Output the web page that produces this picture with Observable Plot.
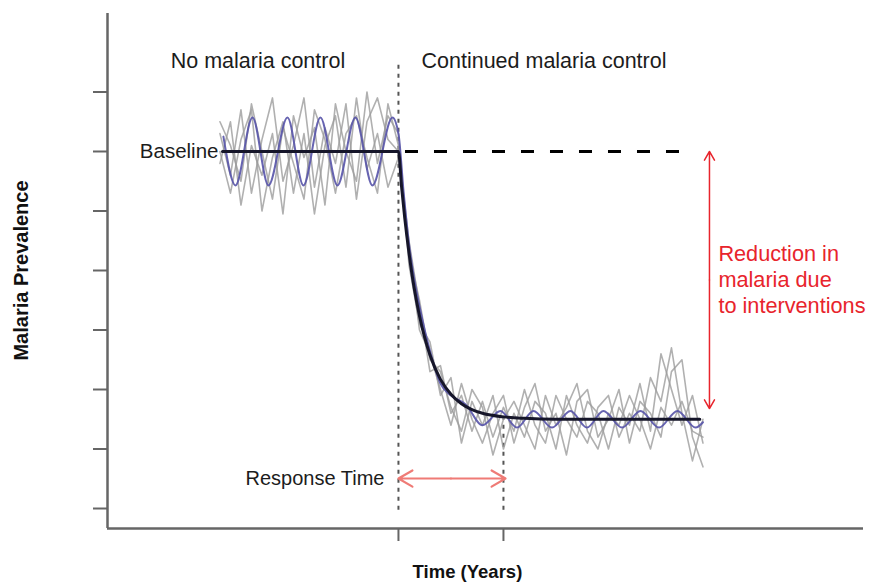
<!DOCTYPE html>
<html>
<head>
<meta charset="utf-8">
<script src="https://cdn.jsdelivr.net/npm/d3@7"></script>
<script src="https://cdn.jsdelivr.net/npm/@observablehq/plot@0.6"></script>
<style>
  html, body { margin: 0; padding: 0; background: #fff; }
  #chart svg { display: block; }
</style>
</head>
<body>
<div id="chart"></div>
<script>
// ---- data (time in years relative to start of control; prevalence in tick units) ----
const times = [-1.7, -1.6, -1.5, -1.4, -1.3, -1.2, -1.1, -1.0, -0.9, -0.8, -0.7, -0.6, -0.5, -0.4, -0.3, -0.2, -0.1,
  0.0, 0.1, 0.2, 0.3, 0.4, 0.5, 0.6, 0.7, 0.8, 0.9, 1.0, 1.1, 1.2, 1.3, 1.4, 1.5, 1.6, 1.7, 1.8, 1.9, 2.0,
  2.1, 2.2, 2.3, 2.4, 2.5, 2.6, 2.7, 2.8, 2.9];

const run1 = [6.3, 5.6, 6.7, 5.3, 6.2, 6.9, 5.5, 6.1, 6.9, 5.4, 6.4, 5.8, 6.8, 5.2, 6.5, 6.9, 6.2,
  6.0, 4.5, 3.4, 2.3, 2.4, 1.6, 1.9, 1.3, 1.8, 1.2, 1.7, 1.3, 2.0, 1.4, 1.1, 1.9, 1.5, 1.2, 1.8,
  1.6, 1.0, 1.7, 1.4, 2.1, 1.3, 2.6, 2.0, 1.4, 1.9, 1.1];
const run2 = [5.8, 6.5, 5.1, 6.1, 5.6, 6.3, 4.95, 6.6, 5.9, 6.4, 5.1, 6.8, 6.0, 5.5, 7.0, 5.8, 6.6,
  6.3, 4.1, 3.1, 2.8, 1.9, 2.2, 1.1, 1.8, 1.4, 1.9, 1.0, 1.6, 1.2, 1.8, 1.6, 1.0, 1.9, 1.4, 1.1,
  1.7, 1.9, 1.2, 1.6, 1.3, 2.2, 1.8, 2.7, 1.6, 0.8, 1.5];
const run3 = [6.0, 5.3, 6.2, 6.7, 5.0, 5.9, 6.5, 5.3, 6.3, 4.95, 6.1, 6.6, 5.4, 6.9, 5.7, 6.3, 5.4,
  5.9, 4.4, 3.0, 2.6, 2.0, 1.4, 2.1, 1.5, 1.1, 1.6, 1.9, 1.1, 1.7, 2.1, 1.3, 1.6, 0.9, 1.8, 2.0,
  1.2, 1.5, 2.0, 1.1, 1.8, 1.6, 1.2, 2.3, 2.5, 1.2, 0.7];
const run4 = [6.5, 6.1, 5.5, 6.8, 6.0, 5.2, 6.4, 5.8, 5.2, 6.7, 6.2, 5.3, 6.3, 6.6, 5.9, 5.3, 6.8,
  6.1, 4.3, 3.5, 2.5, 2.3, 1.7, 1.3, 2.0, 1.7, 0.9, 1.5, 1.8, 1.4, 1.0, 1.9, 1.4, 1.7, 2.1, 1.3,
  1.0, 1.6, 1.4, 1.9, 1.5, 1.0, 1.7, 1.4, 1.8, 1.3, 1.2];

const seasonalT = [-1.667, -1.552, -1.390, -1.238, -1.057, -0.905, -0.743, -0.581, -0.410, -0.248, -0.057,
  0.0, 0.05, 0.1, 0.15, 0.2, 0.3, 0.4, 0.5, 0.64, 0.8, 0.971, 1.129, 1.286, 1.462, 1.638, 1.795,
  1.952, 2.129, 2.305, 2.481, 2.657, 2.83, 2.9];
const seasonalV = [6.25, 5.43, 6.57, 5.43, 6.57, 5.43, 6.57, 5.43, 6.57, 5.43, 6.57,
  6.3, 5.3, 4.45, 3.85, 3.4, 2.65, 2.1, 1.9, 1.75, 1.4, 1.64, 1.36, 1.64, 1.36, 1.64, 1.36,
  1.64, 1.36, 1.64, 1.36, 1.64, 1.36, 1.45];

const meanT = [-1.676, 0, 0.03, 0.06, 0.1, 0.15, 0.2, 0.25, 0.3, 0.4, 0.5, 0.6, 0.7, 0.8, 1.0, 1.2, 1.5, 2.87];
const meanV = [6.0, 6.0, 5.40, 4.88, 4.30, 3.70, 3.24, 2.87, 2.58, 2.17, 1.92, 1.76, 1.66, 1.60, 1.54, 1.515, 1.5, 1.5];

const yTicks = [0, 1, 2, 3, 4, 5, 6, 7];
const xTicks = [0, 1];
const baselineValue = 6;
const floorValue = 1.68;
const responseTime = 1;

const phaseLabels = ["No malaria control", "Continued malaria control"];
const reductionLabel = "Reduction in\nmalaria due\nto interventions";

// ---- build tables ----
const runs = [run1, run2, run3, run4];
const greyRows = runs.flatMap((s, k) => s.map((v, i) => ({t: times[i], v, run: k})));
const seasonalRows = seasonalT.map((t, i) => ({t, v: seasonalV[i]}));
const meanRows = meanT.map((t, i) => ({t, v: meanV[i]}));

const X0 = -2.771, X1 = 4.429, Y0 = -0.336, Y1 = 8.319;
const axisGrey = "#666666";
const red = "#e8242c";
const salmon = "#ef7b76";
const ink = "#1c1c1c";
const font = "'Liberation Sans', Arial, sans-serif";

const redMid = (baselineValue + floorValue) / 2;

const chart = Plot.plot({
  width: 869,
  height: 583,
  marginLeft: 107,
  marginRight: 6,
  marginTop: 13,
  marginBottom: 55,
  style: {fontFamily: font, background: "#fff", color: ink, overflow: "visible"},
  x: {domain: [X0, X1], label: null},
  y: {domain: [Y0, Y1], label: null},
  marks: [
    // axes
    Plot.axisY(yTicks, {tickSize: 14, tickFormat: () => "", stroke: axisGrey, strokeWidth: 2}),
    Plot.axisX(xTicks, {tickSize: 13, tickFormat: () => "", stroke: axisGrey, strokeWidth: 2}),
    Plot.ruleX([X0], {y1: Y0, y2: Y1, stroke: axisGrey, strokeWidth: 2.5}),
    Plot.ruleY([Y0], {x1: X0, x2: X1, stroke: axisGrey, strokeWidth: 2.5}),

    // vertical dotted guides
    Plot.ruleX([0], {y1: -0.03, y2: 7.48, stroke: "#555", strokeWidth: 2, strokeDasharray: "4,5"}),
    Plot.ruleX([responseTime], {y1: -0.03, y2: 1.6, stroke: "#555", strokeWidth: 2, strokeDasharray: "4,5"}),

    // stochastic runs
    Plot.line(greyRows, {x: "t", y: "v", z: "run", stroke: "#9c9c9c", strokeWidth: 1.6, strokeOpacity: 0.8}),
    // seasonal deterministic
    Plot.line(seasonalRows, {x: "t", y: "v", stroke: "#5653a9", strokeWidth: 2, strokeOpacity: 0.9, curve: "monotone-x"}),
    // mean
    Plot.line(meanRows, {x: "t", y: "v", stroke: "#16162a", strokeWidth: 3, curve: "monotone-x"}),

    // baseline projection (dashed)
    Plot.ruleY([baselineValue], {x1: 0.067, x2: 2.733, stroke: "#000", strokeWidth: 3, strokeDasharray: "13,16"}),

    // reduction arrow (red, double headed)
    Plot.arrow([{x1: 2.962, y1: redMid, x2: 2.962, y2: baselineValue}, {x1: 2.962, y1: redMid, x2: 2.962, y2: floorValue}],
      {x1: "x1", y1: "y1", x2: "x2", y2: "y2", stroke: red, strokeWidth: 1.5, headLength: 10}),

    // response time arrow (salmon, double headed)
    Plot.arrow([{x1: 0.5, y1: 0.504, x2: 0, y2: 0.504}, {x1: 0.5, y1: 0.504, x2: responseTime + 0.02, y2: 0.504}],
      {x1: "x1", y1: "y1", x2: "x2", y2: "y2", stroke: salmon, strokeWidth: 2.2, headLength: 11}),

    // labels
    Plot.text([phaseLabels[0]], {x: -1.338, y: 7.395, text: d => d, textAnchor: "middle", lineAnchor: "bottom", fontSize: 21.5, fill: ink}),
    Plot.text([phaseLabels[1]], {x: 1.386, y: 7.395, text: d => d, textAnchor: "middle", lineAnchor: "bottom", fontSize: 21.5, fill: ink}),
    Plot.text(["Baseline"], {x: -1.714, y: baselineValue, text: d => d, textAnchor: "end", lineAnchor: "middle", fontSize: 20.5, fill: ink}),
    Plot.text(["Response Time"], {x: -0.133, y: 0.504, text: d => d, textAnchor: "end", lineAnchor: "middle", fontSize: 20, fill: ink}),
    Plot.text([reductionLabel], {x: 3.047, y: 3.294, text: d => d, textAnchor: "start", lineAnchor: "bottom", lineHeight: 1.18, fontSize: 21.7, fill: red}),

    // axis titles
    Plot.text(["Time (Years)"], {x: 0.657, y: -1.16, text: d => d, textAnchor: "middle", lineAnchor: "bottom", fontSize: 18.5, fontWeight: "bold", fill: "#111"}),
    Plot.text(["Malaria Prevalence"], {x: -3.524, y: 4.0, text: d => d, rotate: -90, textAnchor: "middle", lineAnchor: "bottom", fontSize: 20, fontWeight: "bold", fill: "#111"})
  ]
});

document.getElementById("chart").appendChild(chart);
</script>
</body>
</html>
